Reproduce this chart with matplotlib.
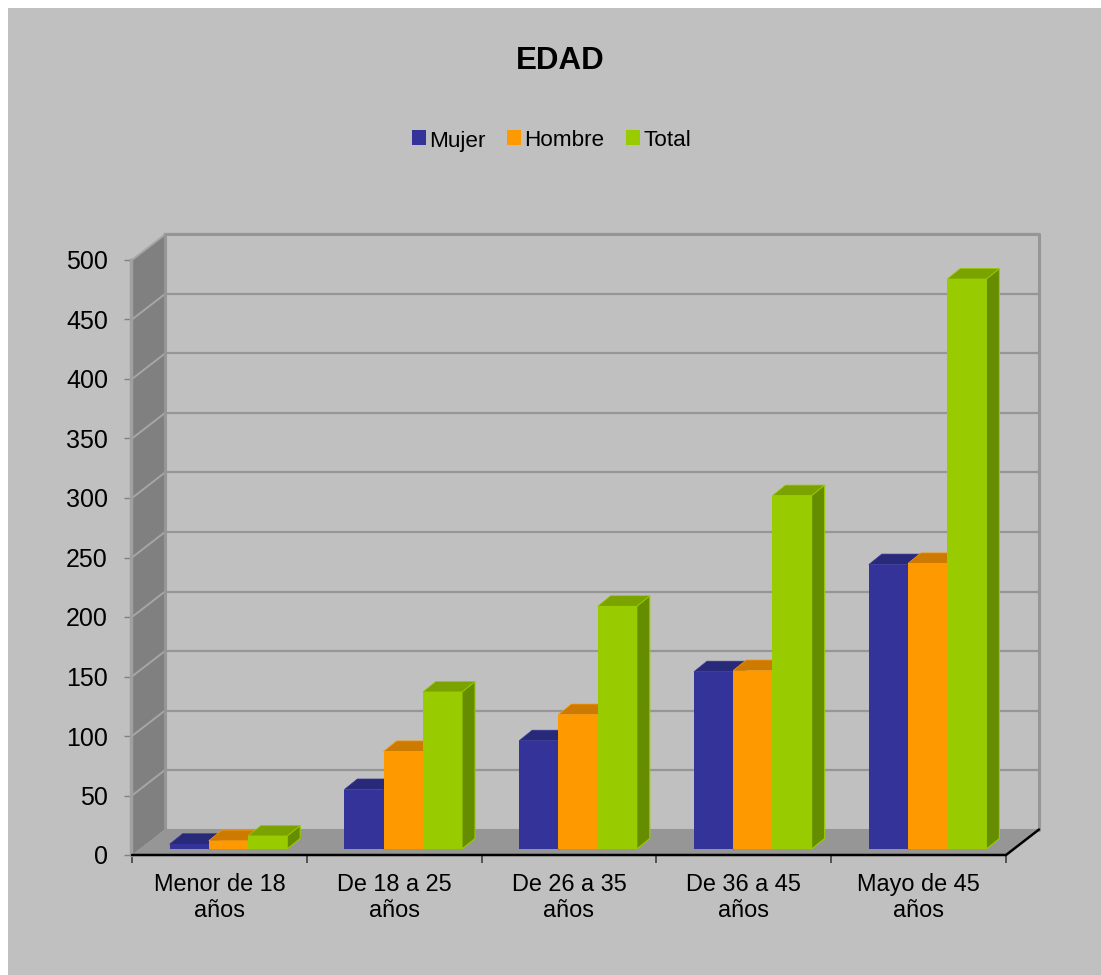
import numpy as np
import matplotlib
matplotlib.use('Agg')
import matplotlib.pyplot as plt
from matplotlib.patches import Rectangle
from matplotlib.transforms import Affine2D

categories = ['Menor de 18\naños', 'De 18 a 25\naños', 'De 26 a 35\naños', 'De 36 a 45\naños', 'Mayo de 45\naños']
mujer = [4, 50, 91, 149, 239]
hombre = [7, 82, 113, 150, 240]
total = [11, 132, 204, 297, 479]
series_names = ['Mujer', 'Hombre', 'Total']
y_ticks = [0, 50, 100, 150, 200, 250, 300, 350, 400, 450, 500]

front = ['#333399', '#FF9900', '#99CC00']
top = ['#29297A', '#CC7A00', '#7AA300']
side = ['#1F1F5C', '#995C00', '#668C00']

plt.rcParams['font.family'] = ['Liberation Sans', 'DejaVu Sans']

W, H = 1101, 975
fig = plt.figure(figsize=(W / 100, H / 100), dpi=100, facecolor='white')
fig.patches.append(Rectangle((8 / W, 0), (W - 8) / W, (H - 8) / H, transform=fig.transFigure,
                             facecolor='#C0C0C0', edgecolor='none', zorder=-1))

# axes box = front plane of the 3d chart
ax = fig.add_axes([132 / W, (H - 855) / H, 874 / W, 595 / H])
ax.set_xlim(-0.5, 4.5)
ax.set_ylim(0, 500)
ax.patch.set_alpha(0)
for s in ax.spines.values():
    s.set_visible(False)

# pixel sizes to data units
ux = 5 / 874.0
uy = 500 / 595.0
wall_dx, wall_dy = 33 * ux, 25.5 * uy
back = ax.transData + Affine2D().translate(33, 25.5)

# left wall and floor
ax.fill([-0.5, -0.5 + wall_dx, -0.5 + wall_dx, -0.5], [0, wall_dy, 500 + wall_dy, 500],
        color='#808080', clip_on=False, lw=0, zorder=1)
ax.fill([-0.5, 4.5, 4.5 + wall_dx, -0.5 + wall_dx], [0, 0, wall_dy, wall_dy],
        color='#969696', clip_on=False, lw=0, zorder=1)

# gridlines, back wall and side wall
for t in y_ticks[1:]:
    ax.plot([-0.5, 4.5], [t, t], transform=back, color='#969696', lw=1.6, clip_on=False, zorder=2)
    ax.plot([-0.5, -0.5 + wall_dx], [t, t + wall_dy], color='#A6A6A6', lw=1.4, clip_on=False, zorder=2)
ax.plot([-0.5, -0.5, 4.5, 4.5, -0.5], [0, 500, 500, 0, 0], transform=back,
        color='#969696', lw=2.2, clip_on=False, zorder=2)
ax.plot([-0.5, -0.5], [0, 500], transform=ax.transData + Affine2D().translate(-1.5, 0),
        color='#A0A0A0', lw=2.5, clip_on=False, zorder=2)

# bars
bar_w = 39.2 / 874 * 5
bar_shift = 9 * ux
bar_lift = 6 * uy
dep_x, dep_y = 13 * ux, 10.5 * uy
x = np.arange(len(categories))
series = [mujer, hombre, total]
for i in range(len(categories)):
    for j, vals in enumerate(series):
        x0 = x[i] + (j - 1.5) * bar_w + bar_shift
        x1 = x0 + bar_w
        v0 = bar_lift
        v1 = vals[i] + bar_lift
        z = 5 + j
        ax.fill([x1, x1 + dep_x, x1 + dep_x, x1], [v0, v0 + dep_y, v1 + dep_y, v1],
                facecolor=side[j], edgecolor=front[j], lw=0.8, clip_on=False, zorder=z)
        ax.fill([x0, x1, x1 + dep_x, x0 + dep_x], [v1, v1, v1 + dep_y, v1 + dep_y],
                facecolor=top[j], edgecolor=front[j], lw=0.5, clip_on=False, zorder=z)
        ax.bar(x0, vals[i], width=bar_w, bottom=v0, align='edge', color=front[j], lw=0,
               clip_on=False, zorder=z, label=series_names[j] if i == 0 else None)

# front edges of the floor
ax.plot([-0.5, 4.5, 4.5 + wall_dx], [0, 0, wall_dy], color='black', lw=1.8, clip_on=False, zorder=8,
        solid_capstyle='round', solid_joinstyle='round')

ax.set_yticks(y_ticks)
ax.set_yticklabels([str(t) for t in y_ticks], fontsize=18)
ax.tick_params(axis='y', length=5.5, width=1, color='#808080', pad=11.8, labelcolor='black', left=True)
ax.set_xticks(np.arange(-0.5, 5, 1), minor=False)
ax.set_xticklabels([''] * 6)
ax.tick_params(axis='x', length=6, width=1.2, color='#404040')
for i, c in enumerate(categories):
    ax.annotate(c, (x[i], 0), xytext=(0, -18), textcoords='offset pixels', ha='center', va='top',
                fontsize=16.9, linespacing=1.16, annotation_clip=False)

fig.text(560 / W, (H - 61) / H, 'EDAD', fontsize=22.5, fontweight='bold', ha='center', va='center')

handles, labels = ax.get_legend_handles_labels()
leg = fig.legend(handles, labels, loc='center', bbox_to_anchor=(551.5 / W, (H - 140) / H), ncol=3, frameon=False,
                 fontsize=16.2, handlelength=0.63, handleheight=0.63, handletextpad=0.15, columnspacing=0.95,
                 borderpad=0)
# Mujer has a descender, keep its baseline level with the others
leg.get_texts()[0].set_position((0, -1))

fig.savefig('out.png', dpi=100, facecolor=fig.get_facecolor())
